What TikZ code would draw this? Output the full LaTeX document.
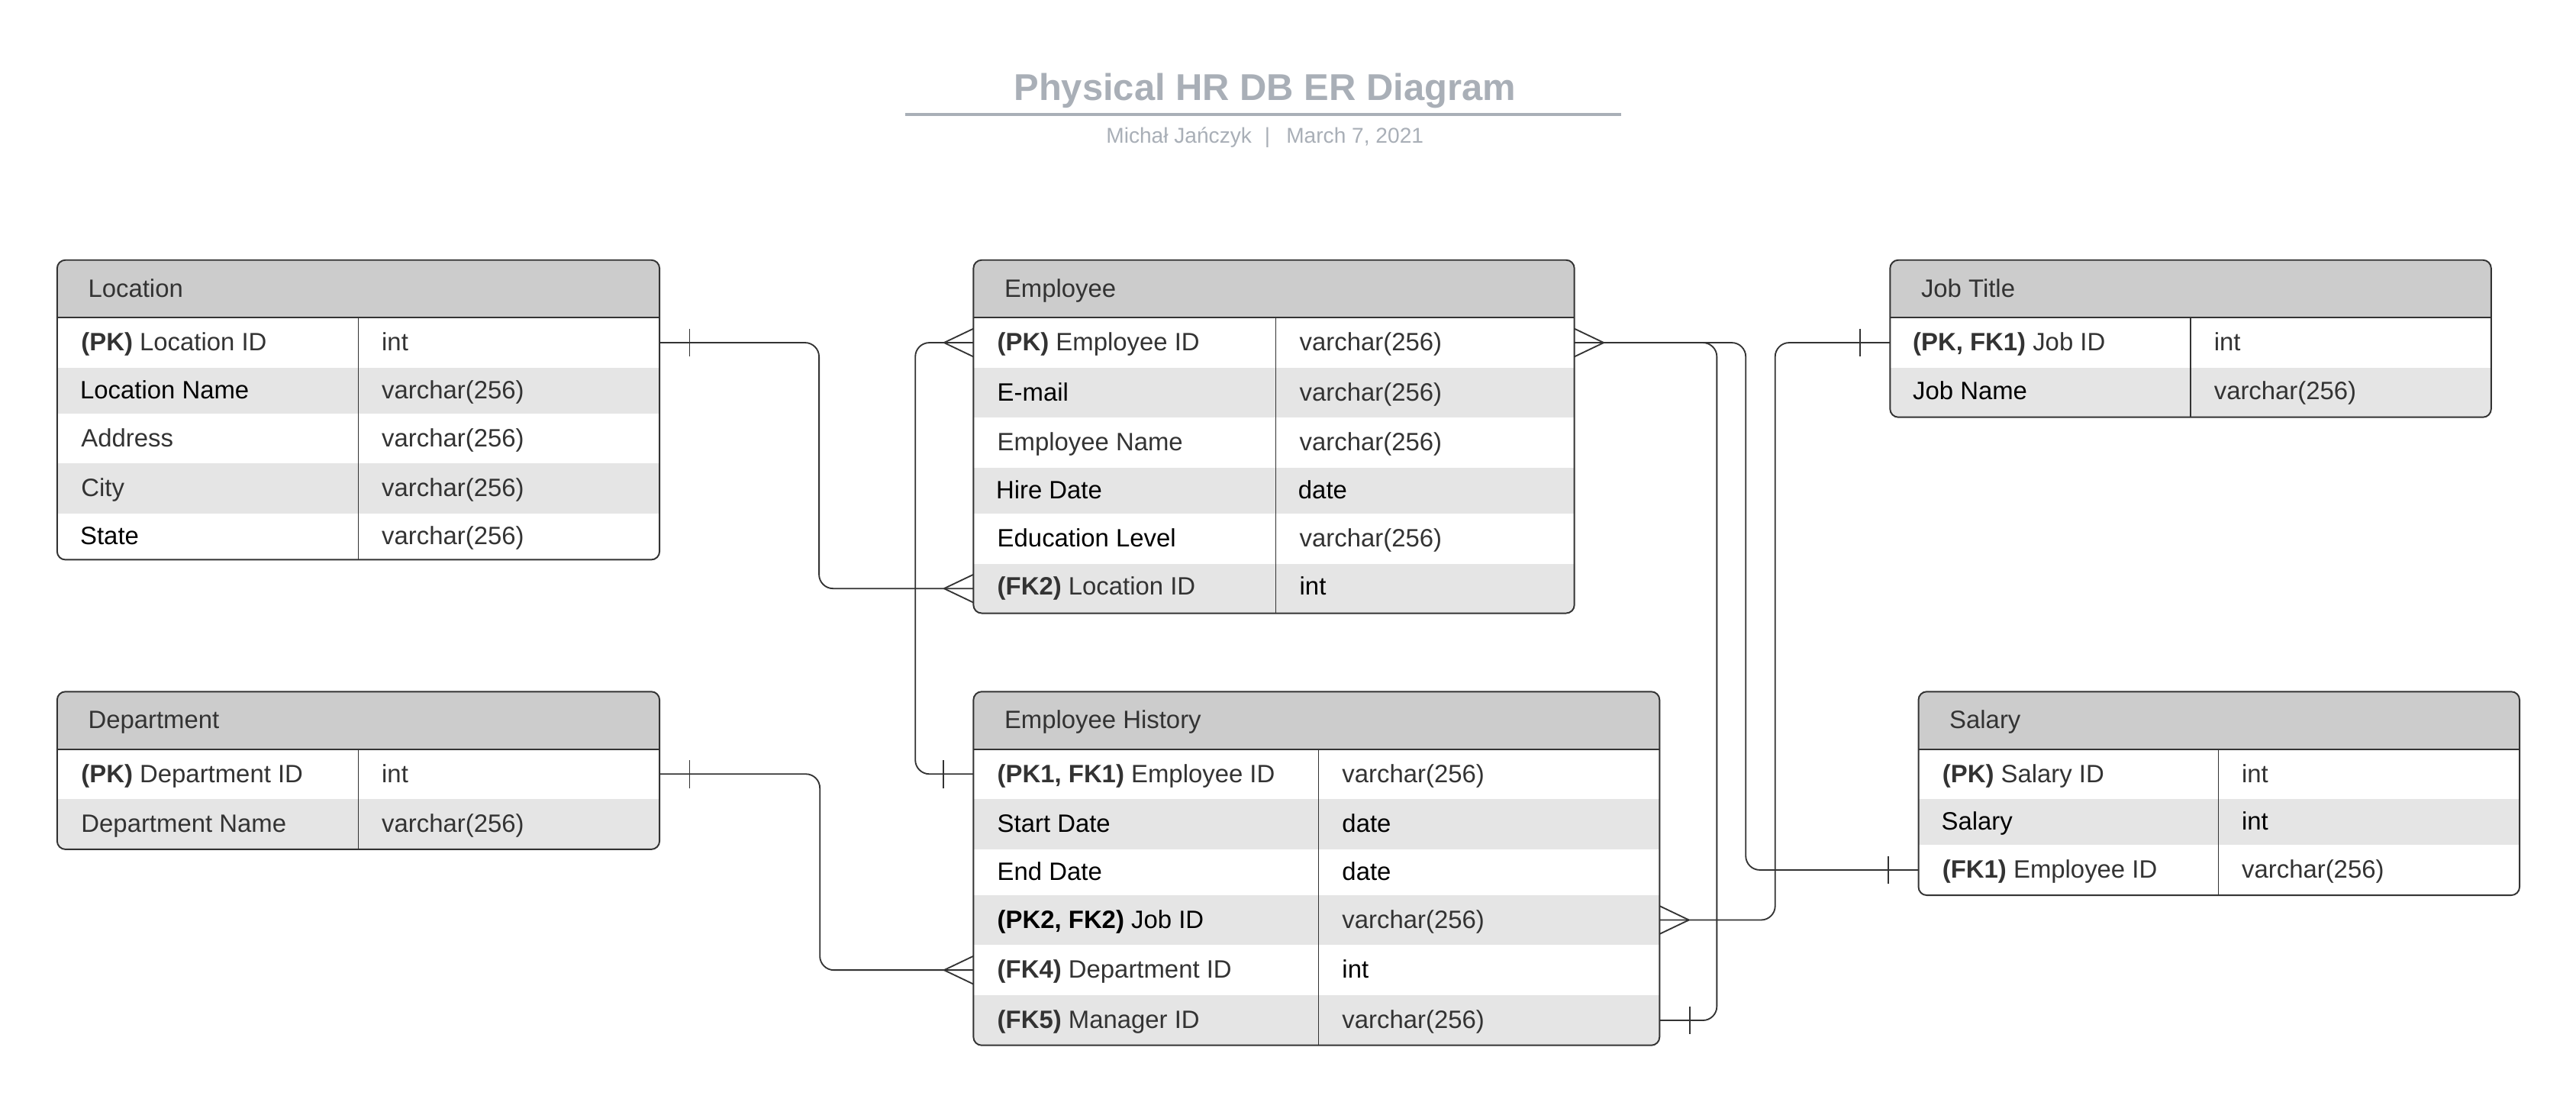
\documentclass[tikz,border=0pt]{standalone}
\usepackage{fontspec}
\setmainfont{Liberation Sans}
\usetikzlibrary{fit}
\definecolor{bordc}{HTML}{333333}
\definecolor{txtc}{HTML}{333333}
\definecolor{hdrc}{HTML}{CCCCCC}
\definecolor{rowg}{HTML}{E5E5E5}
\definecolor{ttlc}{HTML}{A9AFB7}
\tikzset{
  rowcell/.style={draw=none, inner sep=0pt, outer sep=0pt, rectangle},
  hdrtxt/.style={font=\fontsize{15.2}{18}\selectfont, text=txtc, inner sep=0pt, anchor=base west},
  fldtxt/.style={font=\fontsize{15.2}{18}\selectfont, text=txtc, inner sep=0pt, anchor=base west},
  border/.style={draw=bordc, line width=0.9pt, rounded corners=5pt},
  hdrline/.style={draw=bordc, line width=0.9pt},
  divline/.style={draw=bordc, line width=0.7pt},
  conn/.style={draw=bordc, line width=0.85pt},
  cornered/.style={rounded corners=8.5pt},
  ttl/.style={font=\fontsize{22.6}{27}\selectfont\bfseries, text=ttlc, inner sep=0pt, anchor=base},
  subttl/.style={font=\fontsize{13}{16}\selectfont, text=ttlc, inner sep=0pt, anchor=base},
}
% #1 name, #2 x1, #3 x2, #4 divider x, #5 ytop, #6 yhead, #7 ybottom, #8 title, #9 rows
\newcommand{\ertab}[9]{%
  \begin{scope}
    \clip[rounded corners=5pt] (#2,#5) rectangle (#3,#7);
    \fill[hdrc] (#2,#5) rectangle (#3,#6);
    \foreach \i/\ya/\yb/\c in {#9}{%
      \node[rowcell, fill=\c, fit={(#2,\ya) (#3,\yb)}] (#1-\i) {};
    }
  \end{scope}
  \draw[hdrline] (#2,#6) -- (#3,#6);
  \draw[divline] (#4,#6) -- (#4,#7);
  \draw[border] (#2,#5) rectangle (#3,#7);
  \node[hdrtxt] (#1-h) at (#2+18.6,{(#5+#6)/2+5}) {#8};
}
% #1 table, #2 index, #3 x field, #4 x type, #5 y centre, #6 field, #7 type
\newcommand{\frow}[7]{%
  \node[fldtxt] (#1-#2a) at (#3,#5+5) {#6};
  \node[fldtxt] (#1-#2b) at (#4,#5+5) {#7};
}
\newcommand{\crowW}[1]{\draw[conn] ([xshift=-17.8pt]#1.west) -- ([yshift=8.5pt]#1.west) ([xshift=-17.8pt]#1.west) -- ([yshift=-8.5pt]#1.west);}
\newcommand{\crowE}[1]{\draw[conn] ([xshift=17.8pt]#1.east) -- ([yshift=8.5pt]#1.east) ([xshift=17.8pt]#1.east) -- ([yshift=-8.5pt]#1.east);}
\newcommand{\barW}[1]{\draw[conn] ([xshift=-18.3pt,yshift=8.5pt]#1.west) -- ([xshift=-18.3pt,yshift=-8.5pt]#1.west);}
\newcommand{\barE}[1]{\draw[conn] ([xshift=18.2pt,yshift=8.5pt]#1.east) -- ([xshift=18.2pt,yshift=-8.5pt]#1.east);}

\begin{document}
\begin{tikzpicture}[x=1pt,y=-1pt]
\fill[white] (0,0) rectangle (1560,667.4);
\useasboundingbox (0,0) rectangle (1560,667.4);

% title
\node[ttl] (title) at (766,60.6) {Physical HR DB ER Diagram};
\draw[draw=ttlc, line width=1.5pt] (548.3,69.3) -- (981.9,69.3);
\node[subttl] (subtitle) at (766,86.8) {Michał Jańczyk\hspace{0.6em}|\hspace{0.75em}March 7, 2021};

% Location
\ertab{loc}{34.6}{399.4}{217.0}{157.5}{192.3}{339.0}{Location}
  {1/192.3/222.8/white, 2/222.8/250.6/rowg, 3/250.6/280.5/white, 4/280.5/311.0/rowg, 5/311.0/339.0/white}
\frow{loc}{1}{49.0}{231.0}{207.55}{\textbf{(PK)} Location ID}{int}
\frow{loc}{2}{48.4}{231.0}{236.7}{\color{black}Location Name}{varchar(256)}
\frow{loc}{3}{49.0}{231.0}{265.55}{Address}{varchar(256)}
\frow{loc}{4}{49.0}{231.0}{295.75}{City}{varchar(256)}
\frow{loc}{5}{48.4}{231.0}{325.0}{\color{black}State}{varchar(256)}

% Employee
\ertab{emp}{589.5}{953.4}{772.5}{157.5}{192.3}{371.4}{Employee}
  {1/192.3/222.8/white, 2/222.8/252.7/rowg, 3/252.7/283.2/white, 4/283.2/311.0/rowg, 5/311.0/341.5/white, 6/341.5/371.4/rowg}
\frow{emp}{1}{603.8}{786.8}{207.55}{\textbf{(PK)} Employee ID}{varchar(256)}
\frow{emp}{2}{603.8}{786.8}{237.75}{\color{black}E-mail}{varchar(256)}
\frow{emp}{3}{603.8}{786.8}{267.95}{Employee Name}{varchar(256)}
\frow{emp}{4}{603.0}{786.0}{297.1}{\color{black}Hire Date}{\color{black}date}
\frow{emp}{5}{603.8}{786.8}{326.25}{\color{black}Education Level}{varchar(256)}
\frow{emp}{6}{603.8}{786.8}{355.5}{\textbf{(FK2)} Location ID}{\color{black}int}

% Job Title
\ertab{job}{1144.6}{1508.6}{1326.6}{157.5}{192.3}{252.7}{Job Title}
  {1/192.3/222.8/white, 2/222.8/252.7/rowg}
\frow{job}{1}{1158.2}{1340.6}{207.55}{\textbf{(PK, FK1)} Job ID}{int}
\frow{job}{2}{1158.2}{1340.6}{237.0}{\color{black}Job Name}{varchar(256)}

% Department
\ertab{dep}{34.6}{399.4}{217.0}{418.9}{453.7}{514.4}{Department}
  {1/453.7/483.9/white, 2/483.9/514.4/rowg}
\frow{dep}{1}{49.0}{231.0}{468.8}{\textbf{(PK)} Department ID}{int}
\frow{dep}{2}{49.0}{231.0}{499.15}{Department Name}{varchar(256)}

% Employee History
\ertab{eh}{589.5}{1005.0}{798.5}{418.9}{453.7}{633.1}{Employee History}
  {1/453.7/483.9/white, 2/483.9/514.4/rowg, 3/514.4/542.2/white, 4/542.2/572.2/rowg, 5/572.2/602.9/white, 6/602.9/633.1/rowg}
\frow{eh}{1}{603.8}{812.6}{468.8}{\textbf{(PK1, FK1)} Employee ID}{varchar(256)}
\frow{eh}{2}{603.8}{812.6}{499.15}{\color{black}Start Date}{\color{black}date}
\frow{eh}{3}{603.8}{812.6}{528.3}{\color{black}End Date}{\color{black}date}
\frow{eh}{4}{603.8}{812.6}{557.2}{\color{black}\textbf{(PK2, FK2)} Job ID}{varchar(256)}
\frow{eh}{5}{603.8}{812.6}{587.55}{\textbf{(FK4)} Department ID}{\color{black}int}
\frow{eh}{6}{603.8}{812.6}{618.0}{\textbf{(FK5)} Manager ID}{varchar(256)}

% Salary
\ertab{sal}{1161.8}{1525.8}{1343.4}{418.9}{453.7}{542.2}{Salary}
  {1/453.7/483.9/white, 2/483.9/511.6/rowg, 3/511.6/542.2/white}
\frow{sal}{1}{1176.1}{1357.4}{468.8}{\textbf{(PK)} Salary ID}{int}
\frow{sal}{2}{1175.5}{1357.4}{497.75}{\color{black}Salary}{\color{black}int}
\frow{sal}{3}{1176.1}{1357.4}{526.9}{\textbf{(FK1)} Employee ID}{varchar(256)}

% connector routing columns
\coordinate (v1) at (496,0);
\coordinate (v2) at (554.3,0);
\coordinate (v3) at (1039.7,0);
\coordinate (v4) at (1057.2,0);
\coordinate (v5) at (1075.0,0);
\coordinate (v6) at (496.5,0);

% Location -> Employee
\draw[conn, cornered] (loc-1.east) -- (loc-1.east -| v1) -- (emp-6.west -| v1) -- (emp-6.west);
\barE{loc-1}
\crowW{emp-6}
% Employee -> Employee History (PK1)
\draw[conn, cornered] (emp-1.west) -- (emp-1.west -| v2) -- (eh-1.west -| v2) -- (eh-1.west);
\crowW{emp-1}
\barW{eh-1}
% Employee -> Employee History (Manager) and Salary
\draw[conn, cornered] (emp-1.east) -- (emp-1.east -| v3) -- (eh-6.east -| v3) -- (eh-6.east);
\draw[conn, cornered] (emp-1.east) -- (emp-1.east -| v4) -- (sal-3.west -| v4) -- (sal-3.west);
\crowE{emp-1}
\barE{eh-6}
\barW{sal-3}
% Employee History -> Job Title
\draw[conn, cornered] (eh-4.east) -- (eh-4.east -| v5) -- (job-1.west -| v5) -- (job-1.west);
\crowE{eh-4}
\barW{job-1}
% Department -> Employee History
\draw[conn, cornered] (dep-1.east) -- (dep-1.east -| v6) -- (eh-5.west -| v6) -- (eh-5.west);
\barE{dep-1}
\crowW{eh-5}
\end{tikzpicture}
\end{document}
